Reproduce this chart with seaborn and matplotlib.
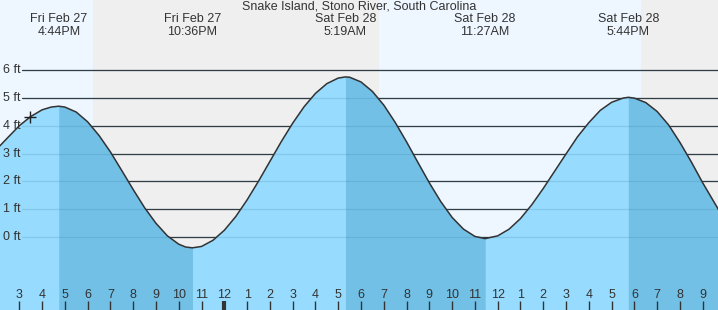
import numpy as np
import pandas as pd
import matplotlib
matplotlib.use("Agg")
import matplotlib.pyplot as plt
import seaborn as sns

# hours counted from Fri Feb 27 3:00 PM
tide_hours = [-0.85, -0.5, 0, 0.5, 1, 1.4, 1.733, 2, 2.5, 3, 3.5, 4, 4.5, 5, 5.5, 6,
              6.5, 7, 7.3, 7.6, 8, 8.5, 9, 9.5, 10, 10.5, 11, 11.5, 12, 12.5, 13,
              13.5, 14, 14.317, 14.5, 15, 15.5, 16, 16.5, 17, 17.5, 18, 18.5, 19,
              19.5, 20, 20.45, 21, 21.5, 22, 22.5, 23, 23.5, 24, 24.5, 25, 25.5, 26,
              26.5, 26.733, 27, 27.5, 28, 28.5, 29, 29.5, 30, 30.7]
tide_ft = [3.28, 3.58, 4.00, 4.33, 4.57, 4.67, 4.70, 4.67, 4.49, 4.14, 3.65, 3.06,
           2.39, 1.71, 1.06, 0.50, 0.05, -0.25, -0.35, -0.38, -0.33, -0.11, 0.25,
           0.74, 1.34, 2.01, 2.72, 3.43, 4.09, 4.68, 5.16, 5.51, 5.71, 5.75, 5.74,
           5.57, 5.23, 4.74, 4.12, 3.42, 2.68, 1.95, 1.28, 0.71, 0.29, 0.03, -0.05,
           0.05, 0.29, 0.67, 1.17, 1.75, 2.37, 2.99, 3.60, 4.11, 4.55, 4.84, 4.99,
           5.02, 4.99, 4.83, 4.51, 4.03, 3.40, 2.70, 1.95, 0.98]

extreme_hours = [1.733, 7.6, 14.317, 20.45, 26.733]
extreme_day = ["Fri Feb 27", "Fri Feb 27", "Sat Feb 28", "Sat Feb 28", "Sat Feb 28"]
extreme_time = ["4:44PM", "10:36PM", "5:19AM", "11:27AM", "5:44PM"]

# daylight periods (sunset Fri, sunrise Sat, sunset Sat)
day_spans = [(-0.85, 3.25), (15.79, 27.28)]
night_spans = [(3.25, 15.79), (27.28, 30.7)]

ft_levels = [0, 1, 2, 3, 4, 5, 6]
hour_labels = ["3", "4", "5", "6", "7", "8", "9", "10", "11", "12", "1", "2", "3", "4",
               "5", "6", "7", "8", "9", "10", "11", "12", "1", "2", "3", "4", "5", "6",
               "7", "8", "9"]
midnight_index = 9

now_hour = 0.48
now_ft = 4.33

title = "Snake Island, Stono River, South Carolina"

sns.set_theme(style="white")
plt.rcParams['font.family'] = ['Liberation Sans', 'DejaVu Sans']

df = pd.DataFrame({'hour': tide_hours, 'ft': tide_ft})

fig = plt.figure(figsize=(7.18, 3.10), dpi=100)
ax = fig.add_axes([0, 0, 1, 1])
xmin, xmax = -0.847, 30.67
ymin, ymax = -2.61, 8.51

# day / night background
for a, b in day_spans:
    ax.axvspan(a, b, color='#eef7ff', zorder=0, lw=0)
for a, b in night_spans:
    ax.axvspan(a, b, color='#efefef', zorder=0, lw=0)

# grid lines
x_grid0 = 0.12
for lv in ft_levels:
    ax.plot([x_grid0, xmax], [lv, lv], color='#333333', lw=0.9, zorder=1)
    ax.text(-0.72, lv, f"{lv} ft", ha='left', va='center', fontsize=9,
            color='#333333', zorder=5)

# tide fill: light for rising, darker for falling
t = np.array(tide_hours)
h = np.array(tide_ft)
ax.fill_between(t, h, ymin, color='#97dcfe', lw=0, zorder=2)
bounds = [tide_hours[0]] + extreme_hours + [tide_hours[-1]]
for i in range(len(bounds) - 1):
    a, b = bounds[i], bounds[i + 1]
    if i % 2 == 1:
        m = (t >= a) & (t <= b)
        ax.fill_between(t[m], h[m], ymin, color='#72c0e6', lw=0, zorder=2)

# faint grid lines over the water
for lv in ft_levels:
    ax.plot([x_grid0, xmax], [lv, lv], color='#2a6f99', lw=0.9, alpha=0.18, zorder=3)

sns.lineplot(data=df, x='hour', y='ft', ax=ax, color='#333333', lw=1.1,
             zorder=4, sort=False)

ax.plot([now_hour], [now_ft], marker='+', markersize=9, mew=1.0, color='#222222',
        zorder=5)

# hour ticks
for i, lab in enumerate(hour_labels):
    lw = 3 if i == midnight_index else 1
    ax.plot([i, i], [-2.27, ymin], color='#333333', lw=lw, zorder=5,
            solid_capstyle='butt')
    ax.text(i, -2.08, lab, ha='center', va='center', fontsize=9, color='#333333',
            zorder=5)

# extreme labels
for x, d, tm in zip(extreme_hours, extreme_day, extreme_time):
    ax.text(x, 7.82, d, ha='center', va='center', fontsize=9, color='#333333')
    ax.text(x, 7.35, tm, ha='center', va='center', fontsize=9, color='#333333')

ax.text((xmin + xmax) / 2 + 0.03, 8.26, title, ha='center', va='center',
        fontsize=9, color='#333333')

ax.set_xlim(xmin, xmax)
ax.set_ylim(ymin, ymax)
ax.axis('off')

fig.savefig('out.png', dpi=100)
